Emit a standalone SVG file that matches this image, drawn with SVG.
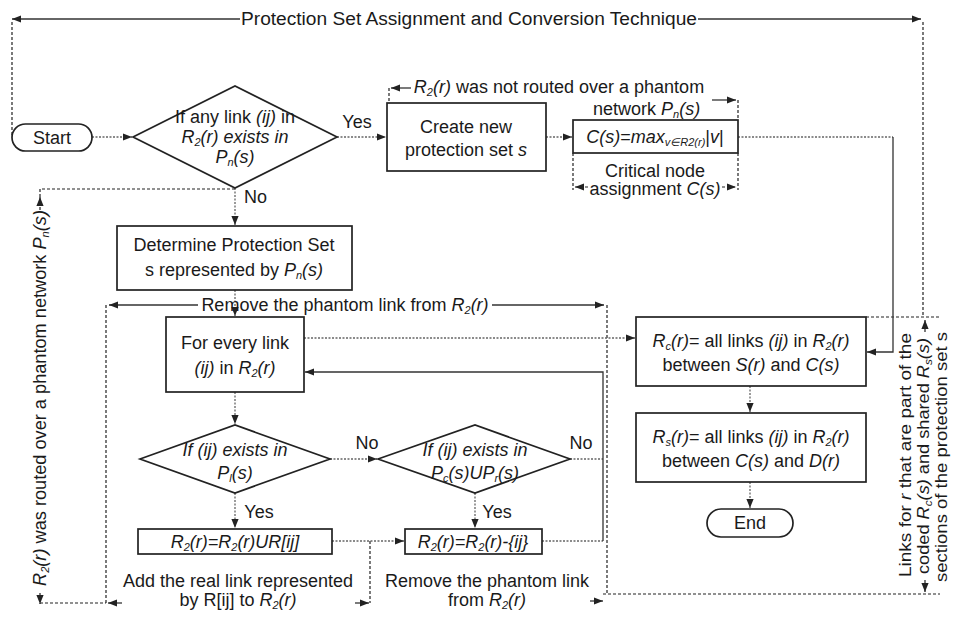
<svg xmlns="http://www.w3.org/2000/svg" width="957" height="625" viewBox="0 0 957 625">
<style>
.t{font-family:"Liberation Sans",Arial,sans-serif;font-size:18px;fill:#1a1a1a;text-anchor:middle}
.r{font-size:17px}
.s{text-anchor:start}
.i{font-style:italic}
.sb{font-size:11px}
.node{fill:#fff;stroke:#222;stroke-width:1.7}
.flow{fill:none;stroke:#666;stroke-width:1.3;stroke-dasharray:2 1.5}
.brk{fill:none;stroke:#222;stroke-width:1.2;stroke-dasharray:3 2}
.sol{fill:none;stroke:#333;stroke-width:1.3}
</style>
<defs>
<marker id="a" viewBox="0 0 10 10" refX="10" refY="5" markerWidth="9" markerHeight="9" markerUnits="userSpaceOnUse" orient="auto"><path d="M0,1 L10,5 L0,9 z" fill="#222"/></marker>
</defs>

<g id="title">
<text class="t" x="469" y="25" textLength="456" lengthAdjust="spacingAndGlyphs">Protection Set Assignment and Conversion Technique</text>
</g>

<g id="connectors">
<!-- brackets -->
<path class="sol" d="M240,19 H12" marker-end="url(#a)"/>
<path class="sol" d="M698,19 H921" marker-end="url(#a)"/>
<path class="brk" d="M12,22 V137"/>
<path class="brk" d="M923,22 V317"/>
<path class="brk" d="M866,317 H940"/>
<path class="brk" d="M603,594 H940"/>
<path class="brk" d="M925,332 V320" marker-end="url(#a)"/>
<path class="brk" d="M925,580 V592" marker-end="url(#a)"/>
<path class="sol" d="M198,305 H109" marker-end="url(#a)"/>
<path class="sol" d="M492,305 H604" marker-end="url(#a)"/>
<path class="brk" d="M106,305 V603"/>
<path class="brk" d="M607,305 V594"/>
<path class="brk" d="M235,189 H40 V199"/>
<path class="brk" d="M40,210 V197" marker-end="url(#a)"/>
<path class="brk" d="M40,593 V604" marker-end="url(#a)"/>
<path class="brk" d="M40,603 H106"/>
<path class="sol" d="M411,88 H391" marker-end="url(#a)"/>
<path class="brk" d="M389,88 V103"/>
<path class="sol" d="M712,100 H736" marker-end="url(#a)"/>
<path class="brk" d="M738,100 V120 M738,153 V190 M573,153 V190"/>
<path class="brk" d="M588,187 H575" marker-end="url(#a)"/>
<path class="brk" d="M722,187 H736" marker-end="url(#a)"/>
<path class="sol" d="M122,603 H108" marker-end="url(#a)"/>
<path class="sol" d="M355,603 H369" marker-end="url(#a)"/>
<path class="brk" d="M370,541 V603"/>
<path class="sol" d="M590,601 H603" marker-end="url(#a)"/>
<!-- flow -->
<path class="flow" d="M92,137 H132" marker-end="url(#a)"/>
<path class="flow" d="M337,137 H386" marker-end="url(#a)"/>
<path class="flow" d="M546,137 H572" marker-end="url(#a)"/>
<path class="flow" d="M235,188 V225" marker-end="url(#a)"/>
<path class="flow" d="M235,290 V316" marker-end="url(#a)"/>
<path class="flow" d="M304,338 H635" marker-end="url(#a)"/>
<path class="flow" d="M235,392 V424" marker-end="url(#a)"/>
<path class="flow" d="M330,459 H377" marker-end="url(#a)"/>
<path class="flow" d="M235,493 V528" marker-end="url(#a)"/>
<path class="flow" d="M475,493 V528" marker-end="url(#a)"/>
<path class="flow" d="M332,541 H404" marker-end="url(#a)"/>
<path class="flow" d="M542,541 H603"/>
<path class="flow" d="M570,459 H603"/>
<path class="sol" d="M603,541 V372 H305" marker-end="url(#a)"/>
<path class="flow" d="M738,137 H893"/>
<path class="sol" d="M893,137 V352 H867" marker-end="url(#a)"/>
<path class="flow" d="M750,386 V412" marker-end="url(#a)"/>
<path class="flow" d="M750,482 V508" marker-end="url(#a)"/>
</g>

<g id="labels">
<text class="t" x="357" y="128">Yes</text>
<text class="t s" x="244" y="203">No</text>
<text class="t" x="367" y="449">No</text>
<text class="t" x="581" y="449">No</text>
<text class="t" x="259" y="518">Yes</text>
<text class="t" x="497" y="518">Yes</text>
<text class="t" x="559" y="93"><tspan class="i">R</tspan><tspan class="i sb" dy="3">2</tspan><tspan class="i" dy="-3">(r)</tspan> was not routed over a phantom</text>
<text class="t s" x="593" y="115">network <tspan class="i">P</tspan><tspan class="i sb" dy="3">n</tspan><tspan class="i" dy="-3">(s)</tspan></text>
<text class="t" x="655" y="177">Critical node</text>
<text class="t" x="655" y="195">assignment <tspan class="i">C(s)</tspan></text>
<text class="t" x="345" y="311">Remove the phantom link from <tspan class="i">R</tspan><tspan class="i sb" dy="3">2</tspan><tspan class="i" dy="-3">(r)</tspan></text>
<text class="t" x="238" y="587">Add the real link represented</text>
<text class="t" x="238" y="606">by R[ij] to <tspan class="i">R</tspan><tspan class="i sb" dy="3">2</tspan><tspan class="i" dy="-3">(r)</tspan></text>
<text class="t" x="487" y="587">Remove the phantom link</text>
<text class="t" x="487" y="606">from <tspan class="i">R</tspan><tspan class="i sb" dy="3">2</tspan><tspan class="i" dy="-3">(r)</tspan></text>
<text class="t" transform="translate(46,398) rotate(-90)" textLength="376" lengthAdjust="spacingAndGlyphs"><tspan class="i">R</tspan><tspan class="i sb" dy="3">2</tspan><tspan class="i" dy="-3">(r)</tspan> was routed over a phantom network <tspan class="i">P</tspan><tspan class="i sb" dy="3">n</tspan><tspan class="i" dy="-3">(s)</tspan></text>
<text class="t r" transform="translate(911,455) rotate(-90)" textLength="244" lengthAdjust="spacingAndGlyphs">Links for <tspan class="i">r</tspan> that are part of the</text>
<text class="t r" transform="translate(929,456) rotate(-90)" textLength="236" lengthAdjust="spacingAndGlyphs">coded <tspan class="i">R</tspan><tspan class="i sb" dy="3">c</tspan><tspan class="i" dy="-3">(s)</tspan> and shared <tspan class="i">R</tspan><tspan class="i sb" dy="3">s</tspan><tspan class="i" dy="-3">(s)</tspan></text>
<text class="t r" transform="translate(947,457) rotate(-90)" textLength="250" lengthAdjust="spacingAndGlyphs">sections of the protection set s</text>
</g>

<g id="start">
<rect class="node" x="12" y="124" width="80" height="27" rx="13.5"/>
<text class="t" x="52" y="144">Start</text>
</g>

<g id="d1">
<polygon class="node" points="133,137 235,86 337,137 235,188"/>
<text class="t" x="235" y="123">If any link <tspan class="i">(ij)</tspan> in</text>
<text class="t i" x="235" y="143">R<tspan class="sb" dy="3">2</tspan><tspan dy="-3">(r) exists in</tspan></text>
<text class="t i" x="235" y="163">P<tspan class="sb" dy="3">n</tspan><tspan dy="-3">(s)</tspan></text>
</g>

<g id="create">
<rect class="node" x="387" y="103" width="159" height="68"/>
<text class="t" x="466" y="133">Create new</text>
<text class="t" x="466" y="156">protection set <tspan class="i">s</tspan></text>
</g>

<g id="cs">
<rect class="node" x="573" y="120" width="165" height="33"/>
<text class="t" x="655" y="143"><tspan class="i">C(s)</tspan>=<tspan class="i">max</tspan><tspan class="i sb" dy="3">v∈R2(r)</tspan><tspan dy="-3">|</tspan><tspan class="i">v</tspan>|</text>
</g>

<g id="determine">
<rect class="node" x="117" y="226" width="235" height="64"/>
<text class="t" x="234" y="251">Determine Protection Set</text>
<text class="t" x="234" y="276">s represented by <tspan class="i">P</tspan><tspan class="i sb" dy="3">n</tspan><tspan class="i" dy="-3">(s)</tspan></text>
</g>

<g id="forevery">
<rect class="node" x="166" y="317" width="138" height="75"/>
<text class="t" x="235" y="349">For every link</text>
<text class="t" x="235" y="374"><tspan class="i">(ij)</tspan> in <tspan class="i">R</tspan><tspan class="i sb" dy="3">2</tspan><tspan class="i" dy="-3">(r)</tspan></text>
</g>

<g id="d2">
<polygon class="node" points="140,459 235,425 330,459 235,493"/>
<text class="t i" x="235" y="456">If (ij) exists in</text>
<text class="t i" x="235" y="479">P<tspan class="sb" dy="3">l</tspan><tspan dy="-3">(s)</tspan></text>
</g>

<g id="d3">
<polygon class="node" points="378,459 475,425 570,459 475,493"/>
<text class="t i" x="475" y="456">If (ij) exists in</text>
<text class="t i" x="475" y="479">P<tspan class="sb" dy="3">c</tspan><tspan dy="-3">(s)UP</tspan><tspan class="sb" dy="3">r</tspan><tspan dy="-3">(s)</tspan></text>
</g>

<g id="r2add">
<rect class="node" x="138" y="529" width="194" height="25"/>
<text class="t i" x="235" y="548">R<tspan class="sb" dy="3">2</tspan><tspan dy="-3">(r)=R</tspan><tspan class="sb" dy="3">2</tspan><tspan dy="-3">(r)UR[ij]</tspan></text>
</g>

<g id="r2rem">
<rect class="node" x="405" y="529" width="137" height="25"/>
<text class="t i" x="473" y="548">R<tspan class="sb" dy="3">2</tspan><tspan dy="-3">(r)=R</tspan><tspan class="sb" dy="3">2</tspan><tspan dy="-3">(r)-{ij}</tspan></text>
</g>

<g id="rc">
<rect class="node" x="636" y="317" width="230" height="69"/>
<text class="t" x="751" y="347"><tspan class="i">R</tspan><tspan class="i sb" dy="3">c</tspan><tspan class="i" dy="-3">(r)</tspan>= all links <tspan class="i">(ij)</tspan> in <tspan class="i">R</tspan><tspan class="i sb" dy="3">2</tspan><tspan class="i" dy="-3">(r)</tspan></text>
<text class="t" x="751" y="371">between <tspan class="i">S(r)</tspan> and <tspan class="i">C(s)</tspan></text>
</g>

<g id="rs">
<rect class="node" x="636" y="413" width="230" height="69"/>
<text class="t" x="751" y="443"><tspan class="i">R</tspan><tspan class="i sb" dy="3">s</tspan><tspan class="i" dy="-3">(r)</tspan>= all links <tspan class="i">(ij)</tspan> in <tspan class="i">R</tspan><tspan class="i sb" dy="3">2</tspan><tspan class="i" dy="-3">(r)</tspan></text>
<text class="t" x="751" y="467">between <tspan class="i">C(s)</tspan> and <tspan class="i">D(r)</tspan></text>
</g>

<g id="end">
<rect class="node" x="707" y="509" width="86" height="28" rx="14"/>
<text class="t" x="750" y="529">End</text>
</g>
</svg>
